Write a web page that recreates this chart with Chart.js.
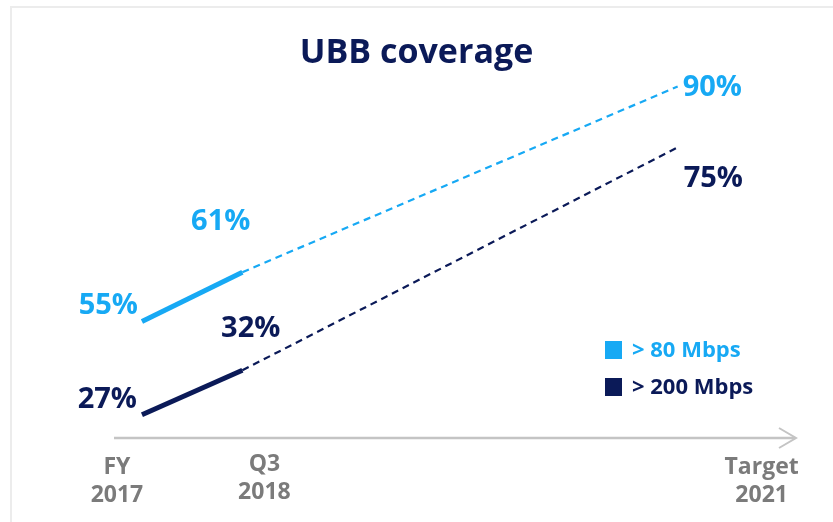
<!DOCTYPE html>
<html>
<head>
<meta charset="utf-8">
<script src="https://cdn.jsdelivr.net/npm/chart.js@4.4.1/dist/chart.umd.min.js"></script>
<style>
  html, body { margin: 0; padding: 0; background: #ffffff; }
  #wrap { position: relative; width: 833px; height: 522px; }
  canvas { display: block; }
</style>
</head>
<body>
<div id="wrap"><canvas id="chart" width="833" height="522"></canvas></div>
<script>
// ---- data ----
const periodLabels = [['FY', '2017'], ['Q3', '2018'], ['Target', '2021']];
const periodX = [2018.0, 2018.75, 2022.0];      // period end, decimal years
const over80 = [55, 61, 90];                    // % coverage > 80 Mbps
const over200 = [27, 32, 75];                   // % coverage > 200 Mbps
const seriesNames = ['> 80 Mbps', '> 200 Mbps'];
const actualCount = 2;                          // FY 2017 and Q3 2018 are actuals; Target is projected

// ---- style ----
const LIGHT = '#17a9f4';
const NAVY = '#0b1a58';
const GREY = '#7b7b7b';
const AXIS = '#c4c4c4';
const FONT = '"Open Sans", "Noto Sans", sans-serif';

function pts(values, from, to) {
  const out = [];
  for (let i = from; i < to; i++) out.push({ x: periodX[i], y: values[i] });
  return out;
}

const series = [
  { name: seriesNames[0], values: over80, color: LIGHT, axis: 'yHigh' },
  { name: seriesNames[1], values: over200, color: NAVY, axis: 'yLow' }
];

const datasets = [];
series.forEach((s, si) => {
  datasets.push({
    label: s.name, data: pts(s.values, 0, actualCount), yAxisID: s.axis,
    borderColor: s.color, backgroundColor: s.color, borderWidth: 5,
    pointRadius: 0, tension: 0
  });
  datasets.push({
    label: s.name + ' (target)', data: pts(s.values, actualCount - 1, s.values.length), yAxisID: s.axis,
    borderColor: s.color, backgroundColor: s.color, borderWidth: 2.2, borderDash: [7, 5],
    pointRadius: 0, tension: 0
  });
});

// label placement for each value (layout only): [align, dx, dy]
const valueLabelPlacement = [
  [['right', -4, -16], ['right', 8, -50], ['left', 5, 1]],
  [['right', -5, -15], ['right', 38, -42], ['left', 6, 31]]
];

const decor = {
  id: 'decor',
  beforeDraw(chart) {
    const ctx = chart.ctx;
    ctx.save();
    ctx.fillStyle = '#ececec';
    ctx.fillRect(10, 6, chart.width - 10, 2);
    ctx.fillRect(10, 6, 2, chart.height - 6);
    ctx.restore();
  },
  afterDatasetsDraw(chart) {
    const ctx = chart.ctx;
    const area = chart.chartArea;
    const xs = chart.scales.x;
    ctx.save();
    // time axis with arrow
    const ay = area.bottom;
    ctx.strokeStyle = AXIS;
    ctx.lineWidth = 2.5;
    ctx.beginPath();
    ctx.moveTo(114, ay);
    ctx.lineTo(795, ay);
    ctx.stroke();
    ctx.lineWidth = 2;
    ctx.beginPath();
    ctx.moveTo(779, ay - 10);
    ctx.lineTo(796, ay);
    ctx.lineTo(779, ay + 10);
    ctx.stroke();

    // period labels
    const periodDx = [-25, 22, 84];
    const periodDy = [0, -3, 0];
    ctx.fillStyle = GREY;
    ctx.font = 'bold 23px ' + FONT;
    ctx.textAlign = 'center';
    ctx.textBaseline = 'middle';
    periodLabels.forEach((lines, i) => {
      const cx = xs.getPixelForValue(periodX[i]) + periodDx[i];
      lines.forEach((t, li) => ctx.fillText(t, cx, ay + 29 + li * 28 + periodDy[i]));
    });

    // value labels
    ctx.font = 'bold 29px ' + FONT;
    series.forEach((s, si) => {
      const ys = chart.scales[s.axis];
      ctx.fillStyle = s.color;
      s.values.forEach((v, i) => {
        const [align, dx, dy] = valueLabelPlacement[si][i];
        const px = xs.getPixelForValue(periodX[i]);
        const py = ys.getPixelForValue(v);
        ctx.textAlign = align;
        ctx.fillText(v + '%', px + dx, py + dy);
      });
    });

    // legend
    ctx.font = 'bold 22px ' + FONT;
    ctx.textAlign = 'left';
    series.forEach((s, si) => {
      const y = 350 + si * 37;
      ctx.fillStyle = s.color;
      ctx.fillRect(605, y - 9, 17, 18);
      ctx.fillText(s.name, 632, y + 1);
    });
    ctx.restore();
  }
};

new Chart(document.getElementById('chart'), {
  type: 'line',
  data: { datasets },
  options: {
    responsive: false,
    animation: false,
    devicePixelRatio: 1,
    layout: { padding: { top: 0, left: 0, right: 0, bottom: 84 } },
    plugins: {
      legend: { display: false },
      tooltip: { enabled: false },
      title: {
        display: true, text: 'UBB coverage', color: NAVY,
        font: { family: FONT, size: 34, weight: 'bold' },
        padding: { top: 33, bottom: 9 }
      }
    },
    scales: {
      x: { type: 'linear', display: false, min: 2016.94, max: 2023.16 },
      yHigh: { type: 'logarithmic', display: false, min: 43.1, max: 90.7 },
      yLow: { type: 'logarithmic', display: false, min: 24.7, max: 96 }
    }
  },
  plugins: [decor]
});
</script>
</body>
</html>
